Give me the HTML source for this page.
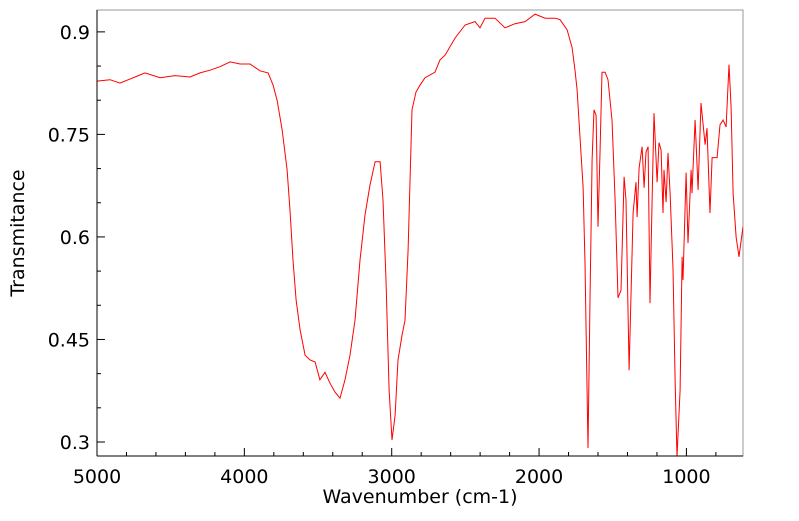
<!DOCTYPE html>
<html><head><meta charset="utf-8"><style>
body{margin:0;background:#fff;}
svg text{font-family:"DejaVu Sans","Liberation Sans",sans-serif;fill:#000;}
</style></head><body>
<svg id="chart" width="799" height="516">
<defs><clipPath id="clip"><rect x="97" y="10" width="646" height="446"/></clipPath></defs>
<rect x="97" y="10" width="646" height="446" fill="#fff" stroke="#999" stroke-width="1"/>
<g id="ticks"></g>
<path id="line" fill="none" stroke="#ff0000" stroke-width="1" clip-path="url(#clip)"/>
<line x1="97" y1="10" x2="97" y2="456" stroke="#000"/>
<line x1="97" y1="456" x2="743" y2="456" stroke="#000"/>
<text x="420" y="503" text-anchor="middle" font-size="19">Wavenumber (cm-1)</text>
<text transform="translate(24,233) rotate(-90)" text-anchor="middle" font-size="19">Transmitance</text>
</svg>
<script>
const wavenumbers=[5000,4912,4844,4742,4674,4572,4471,4369,4301,4233,4165,4097,4029,3962,3894,3839,3805,3778,3744,3710,3690,3670,3649,3622,3588,3554,3520,3487,3453,3419,3385,3351,3317,3283,3249,3215,3181,3147,3113,3079,3059,3039,3018,2998,2977,2957,2930,2910,2889,2862,2835,2808,2774,2706,2672,2638,2570,2502,2435,2401,2367,2299,2231,2163,2095,2027,1959,1891,1858,1810,1776,1756,1742,1722,1701,1688,1668,1654,1640,1627,1613,1600,1586,1573,1552,1532,1505,1484,1464,1444,1423,1410,1389,1362,1342,1335,1321,1301,1287,1274,1260,1247,1233,1220,1199,1186,1172,1159,1152,1138,1125,1111,1091,1077,1064,1043,1029,1023,1002,989,968,962,941,921,901,873,860,840,826,792,772,751,731,711,697,683,663,643,616];
const transmittance=[0.828,0.830,0.825,0.834,0.840,0.833,0.836,0.834,0.840,0.844,0.849,0.856,0.853,0.853,0.843,0.840,0.822,0.800,0.757,0.698,0.639,0.566,0.508,0.464,0.427,0.420,0.417,0.391,0.402,0.386,0.373,0.364,0.391,0.427,0.478,0.566,0.632,0.676,0.710,0.710,0.654,0.537,0.376,0.303,0.339,0.420,0.456,0.478,0.581,0.786,0.812,0.822,0.833,0.841,0.859,0.866,0.891,0.910,0.915,0.906,0.920,0.920,0.906,0.912,0.915,0.926,0.920,0.920,0.918,0.903,0.877,0.844,0.815,0.746,0.673,0.562,0.291,0.508,0.713,0.786,0.778,0.615,0.728,0.841,0.841,0.830,0.771,0.654,0.511,0.522,0.688,0.654,0.405,0.635,0.680,0.629,0.701,0.732,0.672,0.724,0.732,0.503,0.654,0.781,0.680,0.738,0.727,0.635,0.698,0.651,0.723,0.664,0.554,0.391,0.278,0.376,0.571,0.537,0.694,0.591,0.698,0.664,0.771,0.669,0.796,0.735,0.759,0.635,0.716,0.716,0.764,0.771,0.761,0.852,0.790,0.664,0.600,0.571,0.615];
const xTicks=[5000,4000,3000,2000,1000];
const yTicks=[0.3,0.45,0.6,0.75,0.9];
const yTickLabels=["0.3","0.45","0.6","0.75","0.9"];
const X0=97,X1=743,Y0=456,Y1=10,WMAX=5000,WMIN=616,TMIN=0.2795,TMAX=0.932;
function xs(w){return X0+(WMAX-w)/(WMAX-WMIN)*(X1-X0);}
function ys(t){return Y0-(t-TMIN)/(TMAX-TMIN)*(Y0-Y1);}
let d="";
for(let i=0;i<wavenumbers.length;i++){d+=(i?"L":"M")+xs(wavenumbers[i]).toFixed(1)+","+ys(transmittance[i]).toFixed(1);}
document.getElementById('line').setAttribute('d',d);
const g=document.getElementById('ticks');
const NS="http://www.w3.org/2000/svg";
function ln(x1,y1,x2,y2,name){const l=document.createElementNS(NS,'line');l.setAttribute('x1',x1);l.setAttribute('y1',y1);l.setAttribute('x2',x2);l.setAttribute('y2',y2);l.setAttribute('stroke','#000');


g.appendChild(l);}
function tx(x,y,s,anchor,name){const t=document.createElementNS(NS,'text');t.setAttribute('x',x);t.setAttribute('y',y);t.setAttribute('text-anchor',anchor);t.setAttribute('font-size','19');t.textContent=s;


g.appendChild(t);}
for(let w=5000;w>=WMIN;w-=200){const x=xs(w);const major=(w%1000===0);ln(x,Y0,x,Y0-(major?8:4),major?'x-major-tick':'x-minor-tick');}
xTicks.forEach(w=>tx(xs(w),483,String(w),'middle','x-tick-label'));
for(let k=0;k<=13;k++){const t=0.3+k*0.05;if(t>TMAX)break;const y=ys(t);const major=(k%3===0);ln(X0,y,X0+(major?8:4),y,major?'y-major-tick':'y-minor-tick');}
yTicks.forEach((t,i)=>tx(90,ys(t)+7,yTickLabels[i],'end','y-tick-label'));
</script>
</body></html>
